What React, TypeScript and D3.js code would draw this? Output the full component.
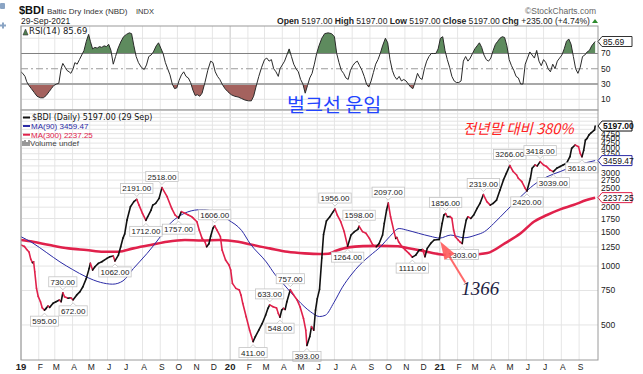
import * as d3 from "d3";

// Baltic Dry Index closes (date, close)
const bdiSeries: [string, number][] = [
  ["2019-01-01", 1282], ["2019-01-07", 1260], ["2019-01-11", 1215], ["2019-01-15", 1180],
  ["2019-01-18", 1085], ["2019-01-21", 1040], ["2019-01-23", 1052], ["2019-01-25", 935],
  ["2019-01-28", 770], ["2019-01-31", 700], ["2019-02-04", 657], ["2019-02-07", 612],
  ["2019-02-11", 595], ["2019-02-14", 608], ["2019-02-17", 625], ["2019-02-20", 615],
  ["2019-02-26", 645], ["2019-03-03", 657], ["2019-03-09", 670], ["2019-03-12", 657],
  ["2019-03-15", 730], ["2019-03-18", 697], ["2019-03-24", 685], ["2019-03-29", 688],
  ["2019-04-02", 672], ["2019-04-08", 710], ["2019-04-14", 740], ["2019-04-19", 784],
  ["2019-04-25", 865], ["2019-04-30", 973], ["2019-05-02", 1032], ["2019-05-06", 954],
  ["2019-05-10", 992], ["2019-05-16", 1032], ["2019-05-22", 1052], ["2019-05-31", 1095],
  ["2019-06-05", 1116], ["2019-06-11", 1125], ["2019-06-14", 1062], ["2019-06-20", 1138],
  ["2019-06-24", 1255], ["2019-06-28", 1390], ["2019-07-01", 1460], ["2019-07-05", 1718],
  ["2019-07-11", 2010], ["2019-07-17", 2135], ["2019-07-22", 2191], ["2019-07-26", 2049],
  ["2019-08-01", 1860], ["2019-08-07", 1712], ["2019-08-10", 1786], ["2019-08-16", 1933],
  ["2019-08-19", 2049], ["2019-08-24", 2090], ["2019-08-30", 2217], ["2019-09-04", 2518],
  ["2019-09-13", 2262], ["2019-09-21", 1971], ["2019-09-27", 1823], ["2019-10-03", 1757],
  ["2019-10-08", 1897], ["2019-10-14", 1860], ["2019-10-20", 1823], ["2019-10-26", 1787],
  ["2019-10-29", 1752], ["2019-11-04", 1685], ["2019-11-08", 1528], ["2019-11-13", 1385],
  ["2019-11-18", 1331], ["2019-11-21", 1255], ["2019-11-25", 1300], ["2019-11-28", 1420],
  ["2019-12-02", 1560], ["2019-12-05", 1606], ["2019-12-09", 1528], ["2019-12-15", 1412],
  ["2019-12-18", 1207], ["2019-12-24", 1073], ["2019-12-30", 1012], ["2020-01-02", 954],
  ["2020-01-05", 816], ["2020-01-11", 769], ["2020-01-17", 754], ["2020-01-20", 710],
  ["2020-01-23", 645], ["2020-01-29", 551], ["2020-02-04", 470], ["2020-02-10", 411],
  ["2020-02-14", 436], ["2020-02-20", 470], ["2020-02-26", 509], ["2020-03-03", 562],
  ["2020-03-07", 608], ["2020-03-10", 633], ["2020-03-16", 619], ["2020-03-22", 610],
  ["2020-03-25", 573], ["2020-03-28", 548], ["2020-03-31", 596], ["2020-04-03", 608],
  ["2020-04-06", 600], ["2020-04-09", 657], ["2020-04-15", 757], ["2020-04-21", 710],
  ["2020-04-27", 670], ["2020-05-02", 619], ["2020-05-08", 540], ["2020-05-12", 470],
  ["2020-05-14", 393], ["2020-05-19", 436], ["2020-05-22", 490], ["2020-05-26", 470],
  ["2020-05-29", 596], ["2020-06-01", 680], ["2020-06-05", 760], ["2020-06-09", 1100],
  ["2020-06-12", 1450], ["2020-06-17", 1700], ["2020-06-23", 1786], ["2020-06-28", 1880],
  ["2020-07-02", 1956], ["2020-07-06", 1823], ["2020-07-12", 1685], ["2020-07-18", 1500],
  ["2020-07-24", 1264], ["2020-07-30", 1441], ["2020-08-05", 1500], ["2020-08-11", 1541],
  ["2020-08-13", 1598], ["2020-08-19", 1500], ["2020-08-25", 1470], ["2020-08-31", 1385],
  ["2020-09-06", 1280], ["2020-09-12", 1255], ["2020-09-17", 1305], ["2020-09-23", 1441],
  ["2020-09-26", 1652], ["2020-09-30", 1933], ["2020-10-03", 2097], ["2020-10-07", 1786],
  ["2020-10-13", 1500], ["2020-10-16", 1385], ["2020-10-18", 1400], ["2020-10-21", 1331],
  ["2020-10-27", 1255], ["2020-11-02", 1207], ["2020-11-08", 1161], ["2020-11-14", 1111],
  ["2020-11-20", 1138], ["2020-11-26", 1207], ["2020-12-02", 1215], ["2020-12-06", 1116],
  ["2020-12-10", 1231], ["2020-12-16", 1305], ["2020-12-22", 1358], ["2020-12-31", 1366],
  ["2021-01-05", 1652], ["2021-01-08", 1823], ["2021-01-11", 1856], ["2021-01-14", 1787],
  ["2021-01-19", 1790], ["2021-01-22", 1752], ["2021-01-25", 1528], ["2021-01-28", 1412],
  ["2021-02-02", 1360], ["2021-02-05", 1330], ["2021-02-09", 1303], ["2021-02-12", 1500],
  ["2021-02-16", 1718], ["2021-02-19", 1787], ["2021-02-24", 1752], ["2021-03-01", 1823],
  ["2021-03-07", 1971], ["2021-03-12", 2090], ["2021-03-18", 2319], ["2021-03-24", 2135],
  ["2021-03-30", 2049], ["2021-04-04", 2090], ["2021-04-10", 2174], ["2021-04-16", 2447],
  ["2021-04-22", 2755], ["2021-04-27", 2976], ["2021-05-03", 3266], ["2021-05-09", 3041],
  ["2021-05-15", 2920], ["2021-05-18", 2809], ["2021-05-24", 2700], ["2021-05-30", 2496],
  ["2021-06-02", 2420], ["2021-06-08", 2809], ["2021-06-11", 3163], ["2021-06-16", 3286],
  ["2021-06-20", 3250], ["2021-06-25", 3418], ["2021-07-01", 3286], ["2021-07-06", 3230],
  ["2021-07-12", 3103], ["2021-07-18", 3039], ["2021-07-24", 3163], ["2021-07-30", 3230],
  ["2021-08-04", 3286], ["2021-08-10", 3350], ["2021-08-16", 3620], ["2021-08-19", 3996],
  ["2021-08-25", 4158], ["2021-08-31", 4076], ["2021-09-03", 3766], ["2021-09-06", 3618],
  ["2021-09-09", 3900], ["2021-09-12", 4400], ["2021-09-15", 4491], ["2021-09-18", 4668],
  ["2021-09-22", 4800], ["2021-09-28", 4962], ["2021-09-29", 5197],
];

const ma90Series: [string, number][] = [
  ["2019-01-01", 1412], ["2019-01-20", 1320], ["2019-02-15", 1170], ["2019-03-10", 1050],
  ["2019-04-01", 960], ["2019-04-25", 880], ["2019-05-20", 825], ["2019-06-10", 808],
  ["2019-06-28", 840], ["2019-07-16", 970], ["2019-08-09", 1160], ["2019-09-01", 1410],
  ["2019-09-15", 1610], ["2019-10-07", 1820], ["2019-10-31", 1930], ["2019-11-15", 1945],
  ["2019-12-06", 1880], ["2019-12-29", 1720], ["2020-01-21", 1520], ["2020-02-05", 1300],
  ["2020-03-04", 1050], ["2020-03-20", 900], ["2020-04-03", 810], ["2020-04-28", 670],
  ["2020-05-20", 585], ["2020-06-05", 552], ["2020-06-15", 560], ["2020-06-30", 650],
  ["2020-07-15", 780], ["2020-07-30", 900], ["2020-08-15", 1020], ["2020-09-01", 1130],
  ["2020-09-20", 1260], ["2020-10-06", 1420], ["2020-10-22", 1555], ["2020-11-05", 1525],
  ["2020-11-25", 1470], ["2020-12-15", 1420], ["2021-01-01", 1390], ["2021-01-20", 1440],
  ["2021-02-12", 1395], ["2021-03-05", 1440], ["2021-03-20", 1500], ["2021-04-05", 1650],
  ["2021-04-28", 1930], ["2021-05-22", 2260], ["2021-06-14", 2600], ["2021-07-07", 2860],
  ["2021-07-30", 3040], ["2021-08-22", 3230], ["2021-09-14", 3380], ["2021-09-29", 3459.47],
];

const ma300Series: [string, number][] = [
  ["2019-01-01", 1358], ["2019-01-22", 1331], ["2019-02-20", 1280], ["2019-03-25", 1231],
  ["2019-04-25", 1207], ["2019-05-25", 1183], ["2019-06-20", 1183], ["2019-07-16", 1231],
  ["2019-08-15", 1280], ["2019-09-13", 1331], ["2019-10-14", 1358], ["2019-11-13", 1350],
  ["2019-12-13", 1358], ["2020-01-15", 1331], ["2020-02-10", 1280], ["2020-03-10", 1231],
  ["2020-04-10", 1183], ["2020-05-10", 1161], ["2020-06-05", 1152], ["2020-06-20", 1155],
  ["2020-07-05", 1200], ["2020-07-25", 1246], ["2020-08-20", 1265], ["2020-09-20", 1268],
  ["2020-10-20", 1262], ["2020-11-10", 1230], ["2020-12-05", 1190], ["2020-12-31", 1150],
  ["2021-01-25", 1138], ["2021-02-20", 1140], ["2021-03-25", 1165], ["2021-04-25", 1310],
  ["2021-05-22", 1470], ["2021-06-14", 1685], ["2021-07-07", 1823], ["2021-07-30", 1948],
  ["2021-08-22", 2049], ["2021-09-14", 2174], ["2021-09-29", 2237.25],
];

const rsiSeries: [string, number][] = [
  ["2019-01-01", 46], ["2019-01-04", 44], ["2019-01-08", 40], ["2019-01-11", 33], ["2019-01-15", 28],
  ["2019-01-19", 24], ["2019-01-24", 19], ["2019-01-29", 14], ["2019-02-04", 12], ["2019-02-09", 12],
  ["2019-02-14", 15], ["2019-02-19", 20], ["2019-02-23", 24], ["2019-02-27", 28], ["2019-03-04", 30],
  ["2019-03-08", 31], ["2019-03-12", 50], ["2019-03-15", 57], ["2019-03-19", 52], ["2019-03-22", 48],
  ["2019-03-26", 46], ["2019-03-29", 44], ["2019-04-02", 50], ["2019-04-05", 58], ["2019-04-09", 56],
  ["2019-04-13", 62], ["2019-04-17", 68], ["2019-04-21", 74], ["2019-04-25", 86], ["2019-04-29", 95],
  ["2019-05-02", 86], ["2019-05-06", 76], ["2019-05-10", 78], ["2019-05-14", 77], ["2019-05-18", 79],
  ["2019-05-22", 78], ["2019-05-26", 80], ["2019-05-30", 79], ["2019-06-03", 82], ["2019-06-07", 74],
  ["2019-06-11", 56], ["2019-06-15", 66], ["2019-06-19", 76], ["2019-06-24", 85], ["2019-06-29", 92],
  ["2019-07-04", 95], ["2019-07-09", 97], ["2019-07-13", 96], ["2019-07-17", 80], ["2019-07-21", 66],
  ["2019-07-25", 58], ["2019-07-30", 52], ["2019-08-04", 49], ["2019-08-08", 55], ["2019-08-12", 66],
  ["2019-08-16", 68], ["2019-08-20", 72], ["2019-08-25", 80], ["2019-08-29", 84], ["2019-09-02", 77],
  ["2019-09-06", 70], ["2019-09-10", 58], ["2019-09-14", 50], ["2019-09-18", 42], ["2019-09-22", 30],
  ["2019-09-26", 24], ["2019-09-30", 25], ["2019-10-04", 35], ["2019-10-08", 42], ["2019-10-12", 46],
  ["2019-10-16", 40], ["2019-10-20", 38], ["2019-10-24", 32], ["2019-10-28", 22], ["2019-11-01", 15],
  ["2019-11-05", 16], ["2019-11-09", 14], ["2019-11-13", 18], ["2019-11-18", 32], ["2019-11-23", 48],
  ["2019-11-28", 60], ["2019-12-02", 58], ["2019-12-06", 46], ["2019-12-10", 40], ["2019-12-14", 36],
  ["2019-12-18", 30], ["2019-12-23", 24], ["2019-12-28", 20], ["2020-01-03", 16], ["2020-01-09", 14],
  ["2020-01-15", 13], ["2020-01-21", 11], ["2020-01-27", 9], ["2020-02-02", 8], ["2020-02-07", 8],
  ["2020-02-11", 14], ["2020-02-15", 26], ["2020-02-20", 40], ["2020-02-25", 52], ["2020-03-01", 62],
  ["2020-03-05", 64], ["2020-03-09", 60], ["2020-03-13", 62], ["2020-03-17", 50], ["2020-03-21", 46],
  ["2020-03-25", 40], ["2020-03-28", 50], ["2020-04-01", 55], ["2020-04-05", 60], ["2020-04-09", 68],
  ["2020-04-13", 76], ["2020-04-17", 66], ["2020-04-21", 56], ["2020-04-25", 50], ["2020-04-29", 46],
  ["2020-05-03", 36], ["2020-05-07", 30], ["2020-05-11", 18], ["2020-05-15", 28], ["2020-05-19", 38],
  ["2020-05-23", 44], ["2020-05-27", 56], ["2020-05-31", 70], ["2020-06-04", 80], ["2020-06-09", 90],
  ["2020-06-14", 96], ["2020-06-20", 97], ["2020-06-26", 96], ["2020-07-01", 92], ["2020-07-05", 70],
  ["2020-07-09", 58], ["2020-07-13", 48], ["2020-07-17", 44], ["2020-07-21", 38], ["2020-07-25", 36],
  ["2020-07-29", 48], ["2020-08-02", 54], ["2020-08-06", 58], ["2020-08-10", 60], ["2020-08-14", 54],
  ["2020-08-18", 48], ["2020-08-22", 40], ["2020-08-26", 30], ["2020-08-30", 26], ["2020-09-03", 34],
  ["2020-09-07", 45], ["2020-09-11", 56], ["2020-09-15", 62], ["2020-09-19", 70], ["2020-09-23", 80],
  ["2020-09-28", 90], ["2020-10-02", 84], ["2020-10-06", 62], ["2020-10-10", 48], ["2020-10-14", 40],
  ["2020-10-18", 36], ["2020-10-22", 40], ["2020-10-26", 34], ["2020-10-30", 36], ["2020-11-03", 34],
  ["2020-11-07", 30], ["2020-11-11", 26], ["2020-11-15", 24], ["2020-11-19", 33], ["2020-11-23", 44],
  ["2020-11-27", 38], ["2020-12-01", 36], ["2020-12-05", 50], ["2020-12-09", 60], ["2020-12-13", 66],
  ["2020-12-17", 70], ["2020-12-21", 70], ["2020-12-25", 70], ["2020-12-29", 76], ["2021-01-02", 90],
  ["2021-01-06", 92], ["2021-01-10", 74], ["2021-01-14", 62], ["2021-01-18", 52], ["2021-01-22", 40],
  ["2021-01-26", 34], ["2021-01-30", 32], ["2021-02-03", 32], ["2021-02-07", 34], ["2021-02-11", 60],
  ["2021-02-15", 66], ["2021-02-19", 60], ["2021-02-23", 64], ["2021-02-27", 70], ["2021-03-03", 76],
  ["2021-03-07", 80], ["2021-03-11", 84], ["2021-03-15", 78], ["2021-03-19", 68], ["2021-03-23", 62],
  ["2021-03-27", 60], ["2021-03-31", 64], ["2021-04-04", 74], ["2021-04-08", 82], ["2021-04-12", 86],
  ["2021-04-16", 90], ["2021-04-20", 92], ["2021-04-24", 91], ["2021-04-28", 80], ["2021-05-02", 62],
  ["2021-05-06", 54], ["2021-05-10", 48], ["2021-05-14", 40], ["2021-05-18", 38], ["2021-05-22", 30],
  ["2021-05-26", 30], ["2021-05-30", 56], ["2021-06-03", 64], ["2021-06-07", 72], ["2021-06-11", 68],
  ["2021-06-15", 64], ["2021-06-19", 74], ["2021-06-23", 60], ["2021-06-27", 54], ["2021-07-01", 62],
  ["2021-07-05", 58], ["2021-07-09", 50], ["2021-07-13", 46], ["2021-07-17", 56], ["2021-07-21", 50],
  ["2021-07-25", 60], ["2021-07-29", 64], ["2021-08-02", 68], ["2021-08-06", 76], ["2021-08-10", 86],
  ["2021-08-14", 89], ["2021-08-18", 82], ["2021-08-22", 66], ["2021-08-26", 50], ["2021-08-30", 44],
  ["2021-09-03", 52], ["2021-09-07", 66], ["2021-09-11", 68], ["2021-09-15", 72], ["2021-09-19", 74],
  ["2021-09-23", 80], ["2021-09-29", 85.69],
];

// swing high / low callouts
const callouts: [string, number, "above" | "below"][] = [
  ["2019-02-11", 595, "below"], ["2019-03-15", 730, "above"], ["2019-04-02", 672, "below"],
  ["2019-06-14", 1062, "below"], ["2019-07-22", 2191, "above"], ["2019-08-07", 1712, "below"],
  ["2019-09-04", 2518, "above"], ["2019-10-03", 1757, "below"], ["2019-12-05", 1606, "above"],
  ["2020-02-10", 411, "below"], ["2020-03-10", 633, "above"], ["2020-03-28", 548, "below"],
  ["2020-04-15", 757, "above"], ["2020-05-14", 393, "below"], ["2020-07-02", 1956, "above"],
  ["2020-07-24", 1264, "below"], ["2020-08-13", 1598, "above"], ["2020-10-03", 2097, "above"],
  ["2020-11-14", 1111, "below"], ["2021-01-11", 1856, "above"], ["2021-02-09", 1303, "below"],
  ["2021-03-18", 2319, "above"], ["2021-05-03", 3266, "above"], ["2021-06-02", 2420, "below"],
  ["2021-06-25", 3418, "above"], ["2021-07-18", 3039, "below"], ["2021-09-06", 3618, "below"],
];

const monthLetters = ["J", "F", "M", "A", "M", "J", "J", "A", "S", "O", "N", "D"];
const priceTickLabels = [250, 500, 750, 1000, 1250, 1500, 1750, 2000, 2250, 2500, 2750, 3000, 3250, 3500, 3750, 4000, 4250, 4500, 4750];
const priceGrid = [500, 750, 1000, 1250, 1500, 1750, 2000, 2250, 2500, 2750, 3000, 3250, 3500, 3750, 4000, 4250, 4500, 4750, 5000, 5250, 5500, 5750, 6000, 6250];
const rsiTicks = [70, 50, 30, 10];
const arrowNote = { date: "2020-12-31", value: 1366, text: "1366" };

const LEFT = 21;
const RIGHT = 598;
const RSI_TOP = 26;
const RSI_BOTTOM = 110;
const MAIN_TOP = 110;
const MAIN_BOTTOM = 360;

const SANS = "'Liberation Sans', Arial, sans-serif";
const VERD = "'DejaVu Sans', Verdana, sans-serif";
const RED = "#e0214b";
const BLUE = "#2b2ba6";

const parse = d3.utcParse("%Y-%m-%d");

function ValueTag({ y, text, stroke, bold }: { y: number; text: string; stroke: string; bold?: boolean }) {
  const h = 5;
  const pts = `${RIGHT},${y} ${RIGHT + 4},${y - h} ${RIGHT + 34},${y - h} ${RIGHT + 34},${y + h} ${RIGHT + 4},${y + h}`;
  return (
    <g>
      <polygon points={pts} fill="#fff" stroke={stroke} strokeWidth={1} />
      <text x={RIGHT + 5} y={y + 3} fontSize={8.5} fontFamily={SANS} fontWeight={bold ? 700 : 400} fill="#111">
        {text}
      </text>
    </g>
  );
}

export default function App() {
  const x = d3.scaleUtc().domain([parse("2019-01-01")!, parse("2021-10-04")!]).range([LEFT, RIGHT]);
  const y = d3.scaleLog().domain([331, 6275]).range([MAIN_BOTTOM, MAIN_TOP]);
  const ry = d3.scaleLinear().domain([-4, 106]).range([RSI_BOTTOM, RSI_TOP]);

  const price = bdiSeries.map(([d, v]) => ({ date: parse(d)!, value: v }));
  const ma90 = ma90Series.map(([d, v]) => ({ date: parse(d)!, value: v }));
  const ma300 = ma300Series.map(([d, v]) => ({ date: parse(d)!, value: v }));
  const rsi = rsiSeries.map(([d, v]) => ({ date: parse(d)!, value: v }));

  type P = { date: Date; value: number };
  const maLine = d3.line<P>().x((p) => x(p.date)).y((p) => y(p.value)).curve(d3.curveMonotoneX);
  const rsiLine = d3.line<P>().x((p) => x(p.date)).y((p) => ry(p.value));
  const rsiAbove = d3.area<P>().x((p) => x(p.date)).y0(ry(70)).y1((p) => ry(p.value));
  const rsiBelow = d3.area<P>().x((p) => x(p.date)).y0(ry(30)).y1((p) => ry(p.value));

  const months = d3.utcMonth.range(parse("2019-01-01")!, parse("2021-10-01")!);

  const segments = d3.pairs(price).map(([a, b], i) => ({
    key: i,
    d: `M${x(a.date)},${y(a.value)}L${x(b.date)},${y(b.value)}`,
    up: b.value >= a.value,
  }));

  const last = price[price.length - 1];
  const lastRsi = rsi[rsi.length - 1];
  const lastMa90 = ma90[ma90.length - 1];
  const lastMa300 = ma300[ma300.length - 1];

  // tick labels sitting under a value tag are hidden, as on the chart
  const tagYs = [y(last.value), y(lastMa90.value), y(lastMa300.value)];
  const visibleTicks = priceTickLabels.filter((t) => tagYs.every((ty) => Math.abs(y(t) - ty) > 5.5));

  // arrow to the year-end close
  const tipX = x(parse(arrowNote.date)!) + 1;
  const tipY = y(arrowNote.value) + 2;
  const tailX = tipX + 25;
  const tailY = tipY + 41;
  const ang = Math.atan2(tipY - tailY, tipX - tailX);
  const headLen = 18;
  const headW = 6;
  const bx = tipX - headLen * Math.cos(ang);
  const by = tipY - headLen * Math.sin(ang);
  const nx = -Math.sin(ang) * headW;
  const ny = Math.cos(ang) * headW;

  return (
    <svg
      width={643}
      height={374}
      viewBox="0 0 643 374"
      style={{ position: "absolute", left: 0, top: 0, background: "#fff" }}
    >
      <defs>
        <clipPath id="clip-above70">
          <rect x={LEFT} y={RSI_TOP} width={RIGHT - LEFT} height={ry(70) - RSI_TOP} />
        </clipPath>
        <clipPath id="clip-below30">
          <rect x={LEFT} y={ry(30)} width={RIGHT - LEFT} height={RSI_BOTTOM - ry(30)} />
        </clipPath>
        <clipPath id="clip-main">
          <rect x={LEFT} y={MAIN_TOP} width={RIGHT - LEFT} height={MAIN_BOTTOM - MAIN_TOP} />
        </clipPath>
      </defs>

      {/* corner icons */}
      <rect x={0} y={3} width={5} height={6} rx={1} fill="#8aa4c4" />
      <path d="M0,25.5h6M3,22.5v6" stroke="#8aa4c4" strokeWidth={2} />

      {/* header */}
      <text x={19} y={14} fontFamily={SANS} fontSize={11} fontWeight={700} fill="#111">$BDI</text>
      <text x={47} y={13.5} fontFamily={SANS} fontSize={8} fill="#333">Baltic Dry Index (NBD)</text>
      <text x={136} y={13.5} fontFamily={SANS} fontSize={7.5} fill="#333">INDX</text>
      <text x={596} y={13.5} textAnchor="end" fontFamily={SANS} fontSize={8.5} fill="#666">©StockCharts.com</text>
      <text x={21} y={23.5} fontFamily={SANS} fontSize={8.5} fill="#222">29-Sep-2021</text>
      <text x={590} y={23.5} textAnchor="end" fontFamily={SANS} fontSize={8.6} fill="#222">
        <tspan fontWeight={700}>Open</tspan> 5197.00 <tspan fontWeight={700}>High</tspan> 5197.00{" "}
        <tspan fontWeight={700}>Low</tspan> 5197.00 <tspan fontWeight={700}>Close</tspan> 5197.00{" "}
        <tspan fontWeight={700}>Chg</tspan> +235.00 (+4.74%)
      </text>
      <path d="M592,23 l3,-4 l3,4z" fill="#2e8b2e" />

      {/* RSI panel */}
      <rect x={LEFT} y={RSI_TOP} width={RIGHT - LEFT} height={RSI_BOTTOM - RSI_TOP} fill="#fff" />
      {months.map((m) => (
        <line key={`rv${+m}`} x1={x(m)} x2={x(m)} y1={RSI_TOP} y2={RSI_BOTTOM}
          stroke={m.getUTCMonth() === 0 ? "#c8c8c8" : "#e6e6e6"} strokeWidth={1} />
      ))}
      {[10, 90].map((t) => (
        <line key={`rg${t}`} x1={LEFT} x2={RIGHT} y1={ry(t)} y2={ry(t)} stroke="#e2e2e2" />
      ))}
      <path d={rsiAbove(rsi) ?? ""} fill="#5e8b5e" clipPath="url(#clip-above70)" />
      <path d={rsiBelow(rsi) ?? ""} fill="#a4625e" clipPath="url(#clip-below30)" />
      <line x1={LEFT} x2={RIGHT} y1={ry(70)} y2={ry(70)} stroke="#808080" strokeWidth={1} />
      <line x1={LEFT} x2={RIGHT} y1={ry(50)} y2={ry(50)} stroke="#9a9a9a" strokeWidth={1} strokeDasharray="7,3,2,3" />
      <line x1={LEFT} x2={RIGHT} y1={ry(30)} y2={ry(30)} stroke="#a8a8a8" strokeWidth={2} />
      <path d={rsiLine(rsi) ?? ""} fill="none" stroke="#2a2a2a" strokeWidth={1} />
      <rect x={LEFT} y={RSI_TOP} width={RIGHT - LEFT} height={RSI_BOTTOM - RSI_TOP} fill="none" stroke="#9a9a9a" />
      {rsiTicks.map((t) => (
        <text key={`rt${t}`} x={RIGHT + 3} y={ry(t) + 3} fontFamily={SANS} fontSize={8.5} fill="#222">{t}</text>
      ))}
      <ValueTag y={ry(lastRsi.value)} text={lastRsi.value.toFixed(2)} stroke="#333" />
      <path d="M23,35 l2.5,-6 l2.5,6z" fill="#4f7f4f" stroke="#333" strokeWidth={0.6} />
      <text x={29} y={34} fontFamily={VERD} fontSize={8.5} fill="#222">RSI(14) 85.69</text>

      {/* main panel grid */}
      {months.map((m) => (
        <line key={`mv${+m}`} x1={x(m)} x2={x(m)} y1={MAIN_TOP} y2={MAIN_BOTTOM}
          stroke={m.getUTCMonth() === 0 ? "#c8c8c8" : "#e6e6e6"} strokeWidth={1} />
      ))}
      {priceGrid.map((t) => (
        <line key={`mg${t}`} x1={LEFT} x2={RIGHT} y1={y(t)} y2={y(t)} stroke="#e4e4e4" />
      ))}

      {/* moving averages and price */}
      <g clipPath="url(#clip-main)">
        <path d={maLine(ma300) ?? ""} fill="none" stroke={RED} strokeWidth={2.6} />
        <path d={maLine(ma90) ?? ""} fill="none" stroke={BLUE} strokeWidth={1} />
        {segments.map((s) => (
          <path key={s.key} d={s.d} stroke={s.up ? "#111" : RED} strokeWidth={1.6}
            strokeLinecap="round" fill="none" />
        ))}
      </g>

      {/* swing callouts */}
      {callouts.map(([d, v, pos]) => {
        const cx = x(parse(d)!);
        const cy = y(v);
        const label = v.toFixed(2);
        const w = label.length * 4.2 + 3;
        const top = pos === "above" ? cy - 16 : cy + 6;
        const notchY = pos === "above" ? top + 10 : top;
        return (
          <g key={`co${d}`}>
            <rect x={cx - w / 2} y={top} width={w} height={10} fill="#fff" stroke="#c4c4c4" strokeWidth={0.8} />
            <path
              d={`M${cx - 3},${notchY} L${cx},${pos === "above" ? notchY + 3 : notchY - 3} L${cx + 3},${notchY}`}
              fill="#fff" stroke="#c4c4c4" strokeWidth={0.8}
            />
            <text x={cx} y={top + 8} textAnchor="middle" fontFamily={SANS} fontSize={8} fill="#222">{label}</text>
          </g>
        );
      })}

      {/* panel border and axes */}
      <rect x={LEFT} y={MAIN_TOP} width={RIGHT - LEFT} height={MAIN_BOTTOM - MAIN_TOP} fill="none" stroke="#9a9a9a" />
      {visibleTicks.map((t) => (
        <text key={`pt${t}`} x={RIGHT + 3} y={y(t) + 3} fontFamily={SANS} fontSize={8.5} fill="#222">{t}</text>
      ))}
      {months.map((m) => {
        const jan = m.getUTCMonth() === 0;
        return (
          <text key={`ml${+m}`} x={x(m) + (jan ? 0 : 1.5)} y={370} textAnchor="middle"
            fontFamily={SANS} fontSize={jan ? 9.5 : 8.5} fontWeight={jan ? 700 : 400} fill="#222">
            {jan ? d3.utcFormat("%y")(m) : monthLetters[m.getUTCMonth()]}
          </text>
        );
      })}

      <ValueTag y={y(lastMa300.value)} text={lastMa300.value.toFixed(2)} stroke={RED} />
      <ValueTag y={y(lastMa90.value)} text={lastMa90.value.toFixed(2)} stroke={BLUE} />
      <ValueTag y={y(last.value)} text={last.value.toFixed(2)} stroke="#111" bold />

      {/* legend */}
      <line x1={23} x2={30} y1={117.5} y2={117.5} stroke="#111" strokeWidth={2} />
      <text x={32} y={120.3} fontFamily={VERD} fontSize={8} fill="#111">$BDI (Daily) 5197.00 (29 Sep)</text>
      <line x1={23} x2={30} y1={126} y2={126} stroke={BLUE} strokeWidth={2} />
      <text x={31} y={128.8} fontFamily={SANS} fontSize={8} fill={BLUE}>MA(90) 3459.47</text>
      <line x1={23} x2={30} y1={134.7} y2={134.7} stroke={RED} strokeWidth={2} />
      <text x={31} y={137.5} fontFamily={SANS} fontSize={8} fill={RED}>MA(300) 2237.25</text>
      <path d="M23,146v-5M25,146v-6M27,146v-4M29,146v-6" stroke="#666" strokeWidth={1.3} />
      <text x={30} y={146.2} fontFamily={SANS} fontSize={8} fill="#444">Volume undef</text>

      {/* annotations */}
      <text x={287} y={112} fontFamily="'Noto Sans CJK KR', sans-serif" fontSize={19.5} fill="#2244ff">벌크선 운임</text>
      <text x={463} y={134} fontFamily="'Noto Sans CJK KR', sans-serif" fontSize={14.5} fontStyle="italic" fill="#ff2222">
        전년말 대비 380%
      </text>
      <line x1={tailX} y1={tailY} x2={bx} y2={by} stroke="#ff5a5a" strokeWidth={2} opacity={0.9} />
      <polygon
        points={`${tipX},${tipY} ${bx + nx},${by + ny} ${bx - nx},${by - ny}`}
        fill="#ff5a5a" opacity={0.9}
      />
      <text x={tailX - 4} y={tailY + 12} fontFamily="'Liberation Serif', serif" fontStyle="italic" fontSize={19} fill="#1c1c40">
        {arrowNote.text}
      </text>
    </svg>
  );
}
